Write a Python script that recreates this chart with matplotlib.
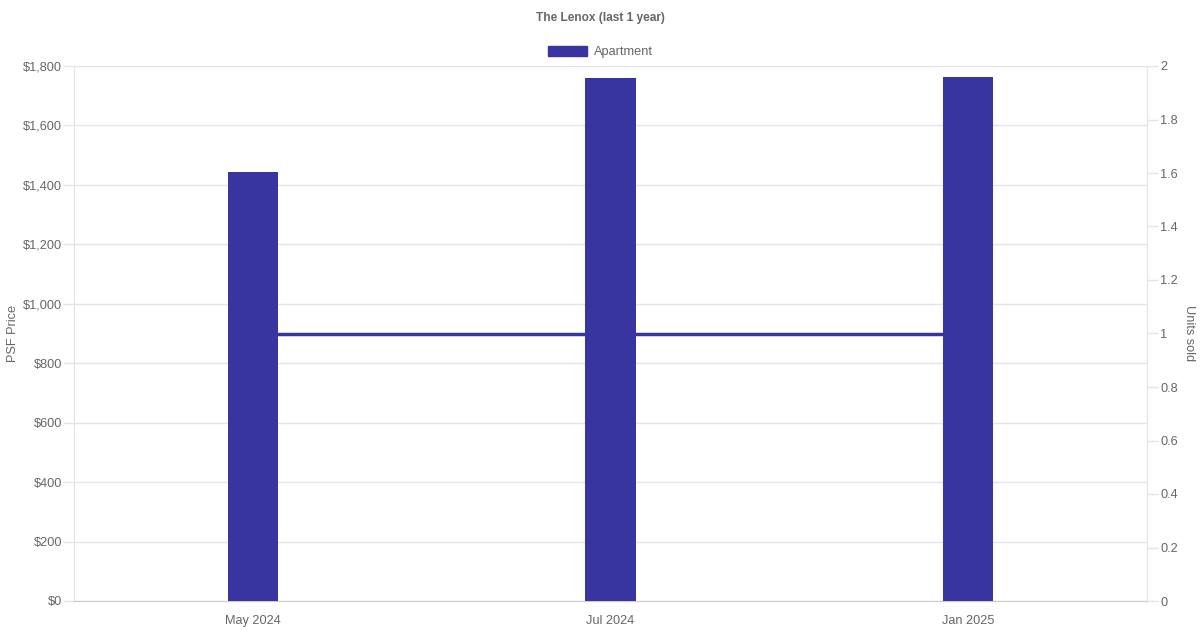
import matplotlib
matplotlib.use("Agg")
import matplotlib.pyplot as plt
from matplotlib.patches import Patch
from matplotlib.ticker import FuncFormatter, MultipleLocator

# data
months = ["May 2024", "Jul 2024", "Jan 2025"]
psf_price = [1442, 1758, 1763]
units_sold = [1, 1, 1]

BAR_COLOR = "#3835a0"
TEXT_COLOR = "#666666"
GRID_COLOR = "#e5e5e5"

plt.rcParams["font.family"] = ["Liberation Sans", "DejaVu Sans"]

fig = plt.figure(figsize=(12, 6.3), dpi=100)
ax = fig.add_axes([74 / 1200, 1 - 601 / 630, (1147 - 74) / 1200, (601 - 66) / 630])
ax2 = ax.twinx()

x = list(range(len(months)))

# units line behind the bars
ax2.plot(x, units_sold, color=BAR_COLOR, linewidth=2.5, zorder=1)
ax2.set_ylim(0, 2)
ax2.yaxis.set_major_locator(MultipleLocator(0.2))
ax2.yaxis.set_major_formatter(FuncFormatter(lambda v, p: f"{v:.1f}".rstrip("0").rstrip(".")))

ax.bar(x, psf_price, width=0.14, color=BAR_COLOR, zorder=3)
ax.set_xlim(-0.5, len(months) - 0.5)
ax.set_ylim(0, 1800)
ax.yaxis.set_major_locator(MultipleLocator(200))
ax.yaxis.set_major_formatter(FuncFormatter(lambda v, p: f"${v:,.0f}"))
ax.set_xticks(x)
ax.set_xticklabels(months)

# bars above the line axis
ax.set_zorder(ax2.get_zorder() + 1)
ax.patch.set_visible(False)

ax.grid(axis="y", color=GRID_COLOR, linewidth=1, zorder=0)
ax.set_axisbelow(True)

for a in (ax, ax2):
    for s in a.spines.values():
        s.set_color(GRID_COLOR)
    a.spines["top"].set_visible(False)
    a.tick_params(colors=TEXT_COLOR, labelsize=9.2, length=8, width=1)
    a.tick_params(axis="y", color=GRID_COLOR)
ax.spines["bottom"].set_color("#cccccc")
ax.tick_params(axis="x", length=0, pad=10)
ax.tick_params(axis="y", pad=0.5)
ax2.tick_params(axis="y", pad=1.5)

ax.set_ylabel("PSF Price", color=TEXT_COLOR, fontsize=9.2, va="center")
ax.yaxis.set_label_coords((13 - 74) / 1073, 0.5)
ax2.set_ylabel("Units sold", color=TEXT_COLOR, fontsize=9.2, rotation=270, va="center")
ax2.yaxis.set_label_coords((1189 - 74) / 1073, 0.5)

fig.text(0.5, 1 - 18 / 630, "The Lenox (last 1 year)", ha="center", va="center",
         fontsize=8.6, fontweight="bold", color=TEXT_COLOR)

handle = Patch(facecolor=BAR_COLOR, edgecolor=BAR_COLOR)
fig.legend([handle], ["Apartment"], loc="center", bbox_to_anchor=(0.5, 1 - 52 / 630),
           frameon=False, fontsize=9.2, labelcolor=TEXT_COLOR, handlelength=3.1,
           handleheight=0.9, handletextpad=0.5)

fig.savefig("out.png", dpi=100)
